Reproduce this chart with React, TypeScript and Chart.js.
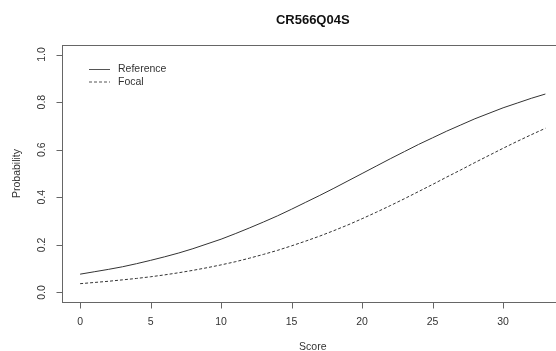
import React, { useEffect, useRef } from "react";
import { Chart, registerables } from "chart.js";

Chart.register(...registerables);

const TITLE = "CR566Q04S";
const X_LABEL = "Score";
const Y_LABEL = "Probability";
const legendLabels = ["Reference", "Focal"];

const scores = [0, 1, 2, 3, 4, 5, 6, 7, 8, 9, 10, 11, 12, 13, 14, 15, 16, 17, 18, 19, 20, 21, 22, 23, 24, 25, 26, 27, 28, 29, 30, 31, 32, 33];
const reference = [0.077, 0.087, 0.097, 0.108, 0.121, 0.135, 0.150, 0.166, 0.184, 0.204, 0.224, 0.247, 0.271, 0.296, 0.322, 0.350, 0.379, 0.408, 0.438, 0.469, 0.500, 0.531, 0.562, 0.592, 0.622, 0.650, 0.678, 0.704, 0.730, 0.753, 0.776, 0.796, 0.816, 0.834];
const focal = [0.037, 0.042, 0.047, 0.053, 0.059, 0.066, 0.074, 0.083, 0.093, 0.104, 0.116, 0.129, 0.144, 0.160, 0.177, 0.196, 0.216, 0.237, 0.260, 0.284, 0.310, 0.337, 0.365, 0.394, 0.424, 0.454, 0.485, 0.515, 0.546, 0.576, 0.606, 0.635, 0.663, 0.690];

const xTicks = [0, 5, 10, 15, 20, 25, 30];
const yTicks = [0, 0.2, 0.4, 0.6, 0.8, 1.0];
const yTickLabels = ["0.0", "0.2", "0.4", "0.6", "0.8", "1.0"];

const FONT = "'Liberation Sans', Arial, sans-serif";
const LINE_COLOR = "#333";
const AXIS_COLOR = "#666";
const TEXT_COLOR = "#333";

const rPlot = {
  id: "rplot",
  afterDraw(chart: any) {
    const { ctx, chartArea: a, scales } = chart;
    const xs = scales.x;
    const ys = scales.y;
    ctx.save();
    ctx.strokeStyle = AXIS_COLOR;
    ctx.lineWidth = 1;
    const l = Math.round(a.left) + 0.5;
    const t = Math.round(a.top) + 0.5;
    const r = Math.round(a.right) + 0.5;
    const b = Math.round(a.bottom) + 0.5;
    ctx.strokeRect(l, t, r - l, b - t);

    ctx.beginPath();
    xTicks.forEach((v) => {
      const px = Math.round(xs.getPixelForValue(v)) + 0.5;
      ctx.moveTo(px, b);
      ctx.lineTo(px, b + 6);
    });
    yTicks.forEach((v) => {
      const py = Math.round(ys.getPixelForValue(v)) + 0.5;
      ctx.moveTo(l, py);
      ctx.lineTo(l - 6, py);
    });
    ctx.stroke();

    ctx.fillStyle = TEXT_COLOR;
    ctx.font = `10.5px ${FONT}`;
    ctx.textAlign = "center";
    ctx.textBaseline = "middle";
    xTicks.forEach((v) => {
      ctx.fillText(String(v), xs.getPixelForValue(v), a.bottom + 20);
    });
    yTicks.forEach((v, i) => {
      ctx.save();
      ctx.translate(a.left - 19.5, ys.getPixelForValue(v));
      ctx.rotate(-Math.PI / 2);
      ctx.fillText(yTickLabels[i], 0, 0);
      ctx.restore();
    });

    // axis titles
    const cx = (a.left + a.right) / 2;
    ctx.fillText(X_LABEL, cx, a.bottom + 45);
    ctx.save();
    ctx.translate(17, (a.top + a.bottom) / 2);
    ctx.rotate(-Math.PI / 2);
    ctx.fillText(Y_LABEL, 0, 0);
    ctx.restore();

    // main title
    ctx.font = `bold 13px ${FONT}`;
    ctx.fillStyle = "#111";
    ctx.fillText(TITLE, cx, 20);

    // legend
    const legY = [69.5, 82];
    const dashes = [[], [3, 2]];
    ctx.font = `10.5px ${FONT}`;
    ctx.textAlign = "left";
    legendLabels.forEach((lab, i) => {
      ctx.strokeStyle = "#555";
      ctx.setLineDash(dashes[i]);
      ctx.beginPath();
      ctx.moveTo(89, legY[i]);
      ctx.lineTo(110, legY[i]);
      ctx.stroke();
      ctx.setLineDash([]);
      ctx.fillStyle = TEXT_COLOR;
      ctx.fillText(lab, 118, legY[i]);
    });
    ctx.restore();
  },
};

export default function App() {
  const ref = useRef<HTMLCanvasElement | null>(null);
  useEffect(() => {
    if (!ref.current) return;
    const chart = new Chart(ref.current, {
      type: "line",
      data: {
        datasets: [
          {
            label: legendLabels[0],
            data: scores.map((s, i) => ({ x: s, y: reference[i] })),
            borderColor: LINE_COLOR,
            borderWidth: 1,
            pointRadius: 0,
            tension: 0,
            fill: false,
          },
          {
            label: legendLabels[1],
            data: scores.map((s, i) => ({ x: s, y: focal[i] })),
            borderColor: LINE_COLOR,
            borderWidth: 1,
            borderDash: [3, 2],
            pointRadius: 0,
            tension: 0,
            fill: false,
          },
        ],
      },
      options: {
        responsive: false,
        animation: false,
        devicePixelRatio: 1,
        layout: { padding: { left: 61.5, top: 45, right: 16, bottom: 49 } },
        plugins: {
          legend: { display: false },
          tooltip: { enabled: false },
          title: { display: false },
        },
        scales: {
          x: { type: "linear", min: -1.32, max: 34.32, display: false },
          y: { type: "linear", min: -0.04, max: 1.04, display: false },
        },
      },
      plugins: [rPlot],
    });
    return () => chart.destroy();
  }, []);

  return (
    <div
      style={{
        position: "fixed",
        left: 0,
        top: 0,
        width: 556,
        height: 351,
        overflow: "hidden",
        background: "#fff",
      }}
    >
      <canvas ref={ref} width={580} height={351} style={{ display: "block", width: 580, height: 351 }} />
    </div>
  );
}
